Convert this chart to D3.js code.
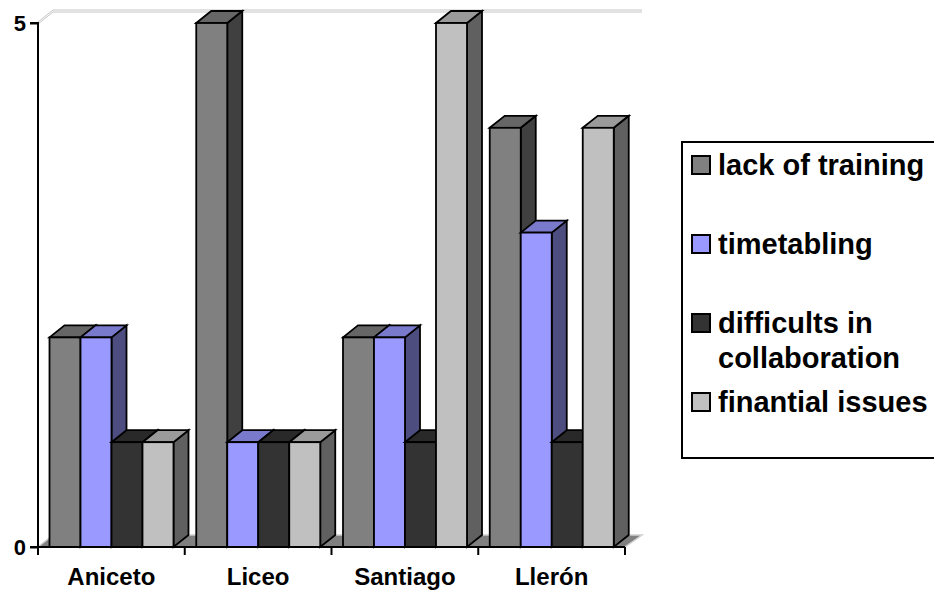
<!DOCTYPE html>
<html>
<head>
<meta charset="utf-8">
<script src="https://cdn.jsdelivr.net/npm/d3@7"></script>
<style>
  body { margin: 0; background: #fff; }
  svg { display: block; font-family: "Liberation Sans", Arial, sans-serif; font-weight: bold; }
</style>
</head>
<body>
<svg id="chart" width="934" height="592"></svg>
<script>
// ==================================
// DATA
// ==================================
const categories = ["Aniceto", "Liceo", "Santiago", "Llerón"];
const seriesNames = ["lack of training", "timetabling", "difficults in collaboration", "finantial issues"];
const lackOfTraining = [2, 5, 2, 4];
const timetabling = [2, 1, 2, 3];
const difficultsInCollaboration = [1, 1, 1, 1];
const finantialIssues = [1, 1, 5, 4];
const yTicks = [0, 5];

const seriesValues = [lackOfTraining, timetabling, difficultsInCollaboration, finantialIssues];

// front / top / side colours, like the old excel 3d look
const colors = [
    { front: "#808080", top: "#666666", side: "#404040" },
    { front: "#9999FF", top: "#7A7ACC", side: "#4D4D80" },
    { front: "#333333", top: "#292929", side: "#1A1A1A" },
    { front: "#C0C0C0", top: "#9A9A9A", side: "#606060" }
];

const svg = d3.select("#chart");

const DX = 15, DY = 12; // depth offset of the 3d box

const x = d3.scaleBand().domain(categories).range([38, 625]);
const xs = d3.scaleBand().domain(d3.range(seriesNames.length)).range([11.5, 135.5]);
const y = d3.scaleLinear().domain([0, 5]).range([547, 23]);

// ==================================
// WALLS + FLOOR
// ==================================
const x0 = x.range()[0], x1 = x.range()[1];
[-1, 1].forEach(off => {
    svg.append("polyline")
        .attr("points", [[x0, y(5) + off], [x0 + DX, y(5) - DY + off], [x1 + DX + 2, y(5) - DY + off]].join(" "))
        .attr("fill", "none")
        .attr("stroke", "#c4c4c4")
        .attr("stroke-width", 1);
});

svg.append("polygon")
    .attr("points", [[x0, y(0)], [x1, y(0)], [x1 + DX + 2, y(0) - DY], [x0 + DX, y(0) - DY]].join(" "))
    .attr("fill", "#808080")
    .attr("stroke", "#d0d0d0")
    .attr("stroke-width", 1.5);

// ==================================
// BARS
// ==================================
categories.forEach((cat, ci) => {
    seriesValues.forEach((vals, si) => {
        const bx = x(cat) + xs(si);
        const bw = xs.bandwidth();
        const top = y(vals[ci]);
        const bot = y(0);
        const c = colors[si];
        const g = svg.append("g")
            .attr("stroke", "#000")
            .attr("stroke-width", 1.8)
            .attr("stroke-linejoin", "miter");
        // side face
        g.append("polygon")
            .attr("points", [[bx + bw, top], [bx + bw + DX, top - DY], [bx + bw + DX, bot - DY], [bx + bw, bot]].join(" "))
            .attr("fill", c.side);
        // top face
        g.append("polygon")
            .attr("points", [[bx, top], [bx + DX, top - DY], [bx + bw + DX, top - DY], [bx + bw, top]].join(" "))
            .attr("fill", c.top);
        // front face
        g.append("rect")
            .attr("x", bx).attr("y", top)
            .attr("width", bw).attr("height", bot - top)
            .attr("fill", c.front);
    });
});

// ==================================
// AXES
// ==================================
const yAxis = d3.axisLeft(y).tickValues(yTicks).tickFormat(d3.format("d")).tickSize(8).tickPadding(4);
svg.append("g")
    .attr("transform", `translate(${x0},0)`)
    .call(yAxis)
    .call(g => g.selectAll("path, line").attr("stroke", "#000").attr("stroke-width", 2))
    .call(g => g.select(".domain").attr("d", `M-8,${y(5)}H0V${y(0)}H-8`))
    .call(g => g.selectAll("text").attr("font-size", 22).attr("font-weight", "bold").attr("fill", "#000")
        .attr("font-family", "Liberation Sans, Arial, sans-serif"));

svg.append("line")
    .attr("x1", x0 - 1).attr("x2", x1)
    .attr("y1", y(0)).attr("y2", y(0))
    .attr("stroke", "#000").attr("stroke-width", 2);

svg.selectAll("line.xtick")
    .data(d3.range(categories.length + 1))
    .enter().append("line")
    .attr("class", "xtick")
    .attr("x1", i => x0 + i * x.step()).attr("x2", i => x0 + i * x.step())
    .attr("y1", y(0)).attr("y2", y(0) + 8)
    .attr("stroke", "#000").attr("stroke-width", 2);

svg.selectAll("text.xlab")
    .data(categories)
    .enter().append("text")
    .attr("class", "xlab")
    .attr("x", d => x(d) + x.bandwidth() / 2)
    .attr("y", 585)
    .attr("text-anchor", "middle")
    .attr("font-size", 24)
    .text(d => d);

// ==================================
// LEGEND
// ==================================
const legend = svg.append("g");
legend.append("rect")
    .attr("x", 682).attr("y", 142)
    .attr("width", 270).attr("height", 316)
    .attr("fill", "#fff")
    .attr("stroke", "#000").attr("stroke-width", 2);

const legendLines = [["lack of training"], ["timetabling"], ["difficults in", "collaboration"], ["finantial issues"]];
const legendBase = [175, 254, 333, 412];

legendLines.forEach((lines, i) => {
    legend.append("rect")
        .attr("x", 692).attr("y", legendBase[i] - 19)
        .attr("width", 18).attr("height", 18)
        .attr("fill", colors[i].front)
        .attr("stroke", "#000").attr("stroke-width", 2);
    const t = legend.append("text")
        .attr("x", 718).attr("y", legendBase[i])
        .attr("font-size", 29);
    lines.forEach((ln, j) => {
        t.append("tspan").attr("x", 718).attr("dy", j === 0 ? 0 : 35).text(ln);
    });
});
</script>
</body>
</html>
